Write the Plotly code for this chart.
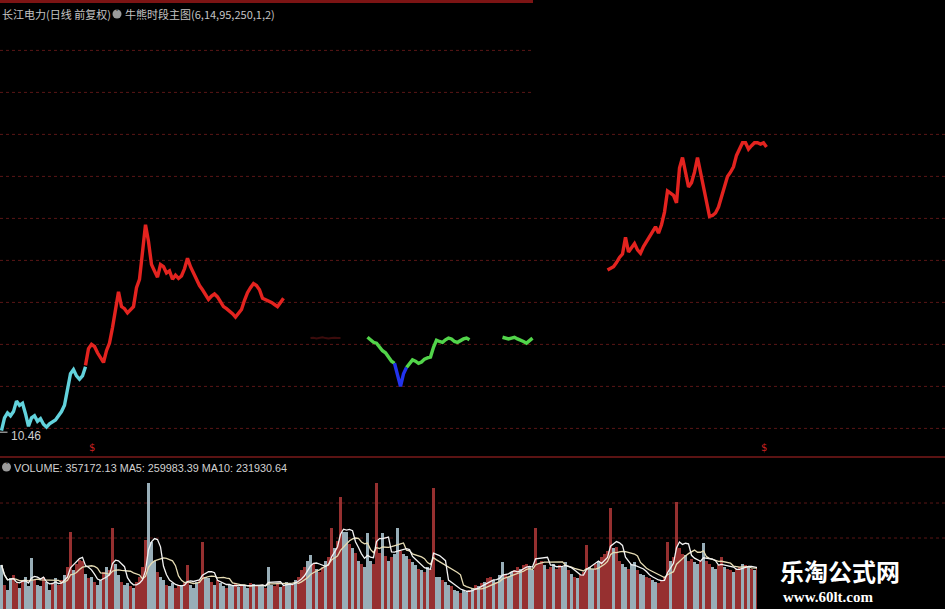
import plotly.graph_objects as go
import pandas as pd

W, H = 945, 609

# ---------------- data ----------------
# closes of the indicator's coloured regimes (day index = start + position)
cyan_start = 0
cyan_close = [10.50, 10.80, 10.92, 10.85, 10.95, 11.20, 11.10, 11.15, 10.90, 10.60,
              10.80, 10.85, 10.72, 10.78, 10.65, 10.58, 10.66, 10.70, 10.75, 10.85,
              10.95, 11.10, 11.45, 11.85, 11.95, 11.80, 11.72, 11.80, 12.02]
red1_start = 28
red1_close = [12.05, 12.45, 12.55, 12.50, 12.35, 12.25, 12.12, 12.40, 12.58, 12.95,
              13.35, 13.80, 13.45, 13.40, 13.30, 13.38, 13.45, 13.90, 14.10, 14.75,
              15.40, 15.00, 14.45, 14.30, 14.15, 14.45, 14.40, 14.25, 14.30, 14.10,
              14.20, 14.12, 14.18, 14.35, 14.60, 14.40, 14.25, 14.08, 13.95, 13.85,
              13.75, 13.62, 13.70, 13.75, 13.68, 13.55, 13.45, 13.40, 13.35, 13.28,
              13.20, 13.28, 13.38, 13.60, 13.78, 13.90, 14.00, 13.95, 13.85, 13.65,
              13.62, 13.58, 13.55, 13.50, 13.45, 13.55, 13.65]
faint_start = 103
faint_close = [12.70, 12.71, 12.69, 12.70, 12.72, 12.70, 12.69, 12.70, 12.71, 12.70, 12.70]
green1_start = 122
green1_close = [12.72, 12.65, 12.60, 12.58, 12.48, 12.40, 12.35, 12.25, 12.15, 12.10]
blue_start = 131
blue_close = [12.10, 11.85, 11.55, 11.85, 12.00]
green1b_start = 135
green1b_close = [12.00, 12.10, 12.18, 12.15, 12.10, 12.13, 12.20, 12.23, 12.25, 12.48,
                 12.65, 12.62, 12.60, 12.66, 12.70, 12.68, 12.62, 12.60, 12.65, 12.68,
                 12.70, 12.66]
green2_start = 167
green2_close = [12.72, 12.70, 12.68, 12.70, 12.72, 12.68, 12.66, 12.62, 12.58, 12.65, 12.70]
red2_start = 202
red2_close = [14.32, 14.35, 14.40, 14.50, 14.62, 14.70, 15.10, 14.75, 14.85, 14.95,
              14.80, 14.72, 14.88, 15.00, 15.10, 15.25, 15.35, 15.20, 15.40, 15.70,
              16.20, 16.15, 16.10, 15.92, 16.75, 17.00, 16.60, 16.30, 16.40, 16.65,
              17.00, 16.65, 16.25, 15.95, 15.60, 15.62, 15.68, 15.82, 16.05, 16.30,
              16.55, 16.65, 16.78, 17.05, 17.20, 17.35, 17.35, 17.20, 17.28, 17.35,
              17.35, 17.32, 17.35, 17.25]

low_label = "10.46"
low_value = 10.46

# daily volume (thousands of shares)
volume_k = [273, 150, 120, 190, 210, 160, 130, 175, 200, 140,
            316, 180, 150, 140, 200, 170, 120, 160, 190, 150,
            180, 210, 260, 477, 240, 280, 304, 300, 220, 190,
            200, 170, 150, 180, 230, 260, 240, 502, 280, 210,
            170, 150, 160, 140, 130, 170, 200, 260, 428, 781,
            415, 300, 230, 200, 180, 150, 140, 160, 130, 150,
            140, 160, 273, 150, 130, 170, 180, 415, 200, 190,
            170, 150, 180, 160, 140, 130, 150, 145, 160, 135,
            150, 140, 130, 160, 155, 145, 140, 150, 130, 260,
            150, 140, 160, 135, 145, 170, 160, 150, 180, 200,
            240, 260, 300, 335, 280, 250, 230, 260, 300, 320,
            502, 380, 420, 694, 477, 477, 400, 380, 350, 300,
            280, 260, 471, 300, 280, 781, 350, 471, 330, 300,
            320, 340, 502, 360, 340, 330, 310, 290, 270, 250,
            240, 230, 260, 250, 750, 198, 200, 180, 170, 150,
            140, 120, 110, 100, 115, 105, 120, 130, 150, 140,
            160, 170, 190, 200, 180, 170, 210, 291, 220, 200,
            230, 240, 260, 250, 270, 280, 260, 240, 502, 280,
            300, 270, 250, 260, 280, 250, 270, 260, 291, 240,
            220, 200, 190, 210, 230, 397, 260, 250, 280, 300,
            320, 340, 360, 626, 380, 384, 300, 280, 260, 250,
            280, 290, 240, 220, 210, 200, 190, 180, 170, 160,
            180, 200, 415, 300, 320, 663, 380, 340, 335, 300,
            310, 290, 280, 300, 409, 300, 280, 260, 250, 270,
            322, 260, 250, 240, 230, 250, 260, 280, 270, 260,
            250, 240, 260, 280, 300, 357]
updown = ("dudduududd" "dudduddudu" "uduuduuudu" "dudduduudd" "udduduuuud"
          "dduddudduu" "duuddduudd" "ududduddud" "uddududdud" "duududdudu"
          "uudduduudu" "uduuddudud" "uddduuudud" "uddudduddu" "duduuddudd"
          "udduddudud" "uduududdud" "duuduudduu" "uduuduuddu" "duduuuddud"
          "uuuuduuddu" "ddudduuddu" "uuuduuuudu" "udduduuddu" "uduuduudud"
          "uduudu")

price_grid = [10.55, 11.55, 12.55, 13.55, 14.55, 15.55, 16.55, 17.55, 18.55, 19.55]
volume_grid_k = [440, 657]
signal_days = [30, 254]

title_left = "长江电力(日线 前复权)"
title_right = "牛熊时段主图(6,14,95,250,1,2)"
vol_label = "VOLUME: 357172.13 MA5: 259983.39 MA10: 231930.64"

# ---------------- figure ----------------
n = len(volume_k)
days = list(range(n))
ma5 = pd.Series(volume_k).rolling(5, min_periods=1).mean()
ma10 = pd.Series(volume_k).rolling(10, min_periods=1).mean()

fig = go.Figure()

def seg(start, vals, color, width=3.4):
    fig.add_trace(go.Scatter(x=list(range(start, start + len(vals))), y=vals,
                             mode="lines", line=dict(color=color, width=width),
                             xaxis="x", yaxis="y", hoverinfo="skip", showlegend=False))

seg(faint_start, faint_close, "#3c0c0c", 2)
seg(cyan_start, cyan_close, "#62d2dc")
seg(red1_start, red1_close, "#e3231f")
seg(green1_start, green1_close, "#52d44a")
seg(green1b_start, green1b_close, "#52d44a")
seg(blue_start, blue_close, "#2233ee")
seg(green2_start, green2_close, "#52d44a")
seg(red2_start, red2_close, "#e3231f")

vol_colors = ["#963030" if c == "u" else "#98aeb8" for c in updown]
fig.add_trace(go.Bar(x=days, y=volume_k, marker=dict(color=vol_colors, line=dict(width=0)),
                     width=0.72, xaxis="x2", yaxis="y2", hoverinfo="skip", showlegend=False))
fig.add_trace(go.Scatter(x=days, y=ma10, mode="lines", line=dict(color="#e6dcb4", width=1.3),
                         xaxis="x2", yaxis="y2", hoverinfo="skip", showlegend=False))
fig.add_trace(go.Scatter(x=days, y=ma5, mode="lines", line=dict(color="#f2f2f2", width=1.3),
                         xaxis="x2", yaxis="y2", hoverinfo="skip", showlegend=False))

split = 152 / H
xr = [-0.5, W / 3 - 0.5]
ptop = 20.75
prange = [ptop - 457 / 42, ptop]
vrange = [0, 152 * 6.2]

fig.update_layout(
    width=W, height=H, margin=dict(l=0, r=0, t=0, b=0, pad=0),
    paper_bgcolor="#000000", plot_bgcolor="#000000",
    bargap=0, showlegend=False,
    xaxis=dict(domain=[0, 1], range=xr, visible=False, anchor="y"),
    yaxis=dict(domain=[split, 1], range=prange, visible=False, anchor="x"),
    xaxis2=dict(domain=[0, 1], range=xr, visible=False, anchor="y2"),
    yaxis2=dict(domain=[0, split], range=vrange, visible=False, anchor="x2"),
)

shapes = []
grid_col = "#5a1616"
for g in price_grid:
    x1 = 177 if g > 18 else xr[1]
    shapes.append(dict(type="line", xref="x", yref="y", x0=xr[0], x1=x1, y0=g, y1=g,
                       line=dict(color=grid_col, width=1, dash="dot"), layer="below"))
for g in volume_grid_k:
    shapes.append(dict(type="line", xref="x2", yref="y2", x0=xr[0], x1=xr[1], y0=g, y1=g,
                       line=dict(color=grid_col, width=1, dash="dot"), layer="below"))
# panel borders
shapes.append(dict(type="line", xref="paper", yref="paper", x0=0, x1=533 / W,
                   y0=1 - 1.5 / H, y1=1 - 1.5 / H, line=dict(color="#7c1414", width=3)))
shapes.append(dict(type="line", xref="paper", yref="paper", x0=0, x1=1,
                   y0=split, y1=split, line=dict(color="#7a1a1a", width=1.5)))
# low marker tick
shapes.append(dict(type="line", xref="x", yref="y", x0=-0.5, x1=2, y0=low_value, y1=low_value,
                   line=dict(color="#d0d0d0", width=1)))
# icons
for cx, cy in ((117, 14), (6.5, 467)):
    shapes.append(dict(type="circle", xref="paper", yref="paper",
                       x0=(cx - 4.5) / W, x1=(cx + 4.5) / W,
                       y0=1 - (cy + 4.5) / H, y1=1 - (cy - 4.5) / H,
                       fillcolor="#9a9a9a", line=dict(width=0)))
# watermark box
shapes.append(dict(type="rect", xref="paper", yref="paper", x0=757 / W, x1=1,
                   y0=0, y1=1 - 549 / H, fillcolor="#000000", line=dict(width=0)))
fig.update_layout(shapes=shapes)

ann = []
def txt(x, y, s, size=12, color="#c4c4c4", family="Noto Sans CJK SC", xanchor="left"):
    ann.append(dict(xref="paper", yref="paper", x=x / W, y=1 - y / H, text=s, showarrow=False,
                    xanchor=xanchor, yanchor="middle",
                    font=dict(size=size, color=color, family=family)))

txt(0, 14, title_left, 11)
txt(123, 14, title_right, 11)
txt(117, 13.5, "˅", 8, "#1a1a1a", "DejaVu Sans", xanchor="center")
txt(6.5, 466.5, "˅", 8, "#1a1a1a", "DejaVu Sans", xanchor="center")
txt(12, 468, vol_label, 10.8, "#d2d2d2", "Liberation Sans Narrow, Arial Narrow, Liberation Sans")
txt(778, 570, "<b>乐淘公式网</b>", 24, "#ffffff", "Noto Sans CJK SC")
txt(781, 597, "<b>www.60lt.com</b>", 15, "#ffffff", "Liberation Serif, DejaVu Serif")
fig.update_layout(annotations=ann)

fig.add_annotation(xref="x", yref="y", x=2.5, y=low_value - 0.1, text=low_label, showarrow=False,
                   xanchor="left", yanchor="middle",
                   font=dict(size=12, color="#cfcfcf", family="Liberation Sans Narrow, Liberation Sans"))
for d in signal_days:
    fig.add_annotation(xref="x", yref="paper", x=d, y=1 - 447 / H, text="$", showarrow=False,
                       xanchor="center", yanchor="middle",
                       font=dict(size=10, color="#c82020", family="DejaVu Sans"))

fig.write_html("out.html", config={"displayModeBar": False, "staticPlot": True},
               post_script="document.body.style.margin='0';document.body.style.overflow='hidden';")
